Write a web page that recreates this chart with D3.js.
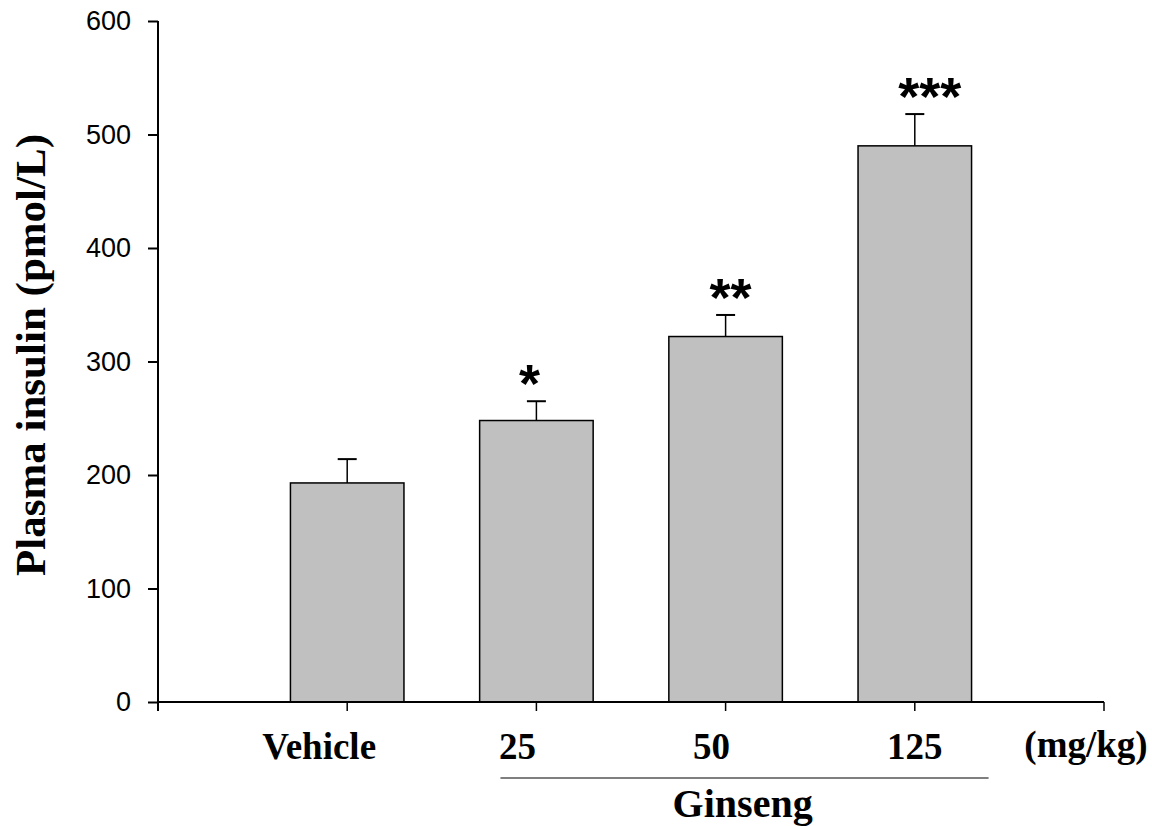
<!DOCTYPE html>
<html>
<head>
<meta charset="utf-8">
<script src="https://cdn.jsdelivr.net/npm/d3@7"></script>
<style>
  body { margin: 0; background: #fff; }
  svg { display: block; }
</style>
</head>
<body>
<div id="graphicContainer"></div>
<script>
// data
var groups = ["Vehicle", "25", "50", "125"]
var means = [193, 248, 322, 490]
var errors = [21, 17, 19, 28]
var stars = ["", "*", "**", "***"]
var yTicks = [0, 100, 200, 300, 400, 500, 600]

// hand-placed nudges of the text in the original figure
var labelNudge = [-28, -19, -14, 0]
var starNudge = [0, -7, 5, 15]

var width = 1152, height = 826
var margin = {top: 21, left: 158, right: 48, bottom: 124}
var innerW = width - margin.left - margin.right
var innerH = height - margin.top - margin.bottom

var svg = d3.select("#graphicContainer").append("svg")
	.attr("width", width)
	.attr("height", height)

var features = svg.append("g").attr("transform", "translate(" + margin.left + "," + margin.top + ")")

// positions 1..4 on a 0..5 axis
var x = d3.scaleLinear().domain([0, 5]).range([0, innerW])
var y = d3.scaleLinear().domain([0, 600]).range([innerH, 0])
var barW = x(1) * 0.6

var sans = "Liberation Sans, Arial, sans-serif"
var serif = "Liberation Serif, Times New Roman, serif"

// y axis
var yAxis = d3.axisLeft(y).tickValues(yTicks).tickSize(10).tickPadding(17).tickFormat(d3.format("d"))
var gy = features.append("g").call(yAxis)
gy.select(".domain").remove()
gy.selectAll("line").attr("stroke", "#000").attr("stroke-width", 2)
gy.selectAll("text").attr("font-family", sans).attr("font-size", 27).attr("fill", "#000")
features.append("line")
	.attr("x1", 0).attr("x2", 0)
	.attr("y1", 0).attr("y2", innerH + 9)
	.attr("stroke", "#000").attr("stroke-width", 2)

// bars
features.selectAll(".bar")
	.data(means)
	.enter().append("rect")
	.attr("class", "bar")
	.attr("x", function(d, i) { return x(i + 1) - barW / 2 })
	.attr("y", function(d) { return y(d) })
	.attr("width", barW)
	.attr("height", function(d) { return y(0) - y(d) })
	.attr("fill", "#c0c0c0")
	.attr("stroke", "#000")
	.attr("stroke-width", 1.5)

// error bars (upper only)
var eb = features.selectAll(".err")
	.data(means)
	.enter().append("g")
	.attr("class", "err")
eb.append("line")
	.attr("x1", function(d, i) { return x(i + 1) })
	.attr("x2", function(d, i) { return x(i + 1) })
	.attr("y1", function(d) { return y(d) })
	.attr("y2", function(d, i) { return y(d + errors[i]) })
	.attr("stroke", "#000").attr("stroke-width", 1.5)
eb.append("line")
	.attr("x1", function(d, i) { return x(i + 1) - 9.5 })
	.attr("x2", function(d, i) { return x(i + 1) + 9.5 })
	.attr("y1", function(d, i) { return y(d + errors[i]) })
	.attr("y2", function(d, i) { return y(d + errors[i]) })
	.attr("stroke", "#000").attr("stroke-width", 2)

// significance stars
features.selectAll(".star")
	.data(means)
	.enter().append("text")
	.attr("class", "star")
	.attr("x", function(d, i) { return x(i + 1) + starNudge[i] })
	.attr("y", function(d, i) { return y(d + errors[i]) + 1 })
	.attr("text-anchor", "middle")
	.attr("font-family", sans)
	.attr("font-weight", "bold")
	.attr("font-size", 54)
	.attr("fill", "#000")
	.text(function(d, i) { return stars[i] })

// x axis
features.append("line")
	.attr("x1", 0).attr("x2", innerW)
	.attr("y1", innerH).attr("y2", innerH)
	.attr("stroke", "#000").attr("stroke-width", 2)
var xTicks = [1, 2, 3, 4, 5]
features.selectAll(".xtick")
	.data(xTicks)
	.enter().append("line")
	.attr("x1", function(d) { return x(d) })
	.attr("x2", function(d) { return x(d) })
	.attr("y1", innerH).attr("y2", innerH + 9)
	.attr("stroke", "#000").attr("stroke-width", 1.5)

features.selectAll(".xlab")
	.data(groups)
	.enter().append("text")
	.attr("x", function(d, i) { return x(i + 1) + labelNudge[i] })
	.attr("y", innerH + 57)
	.attr("text-anchor", "middle")
	.attr("font-family", serif)
	.attr("font-weight", "bold")
	.attr("font-size", 37)
	.attr("fill", "#000")
	.text(function(d) { return d })

features.append("text")
	.attr("x", x(5) - 18)
	.attr("y", innerH + 55)
	.attr("text-anchor", "middle")
	.attr("font-family", serif)
	.attr("font-weight", "bold")
	.attr("font-size", 37)
	.text("(mg/kg)")

// group bracket for Ginseng
features.append("line")
	.attr("x1", x(1.81)).attr("x2", x(4.39))
	.attr("y1", innerH + 76).attr("y2", innerH + 76)
	.attr("stroke", "#000").attr("stroke-width", 1.2)
features.append("text")
	.attr("x", x(3.09))
	.attr("y", innerH + 115)
	.attr("text-anchor", "middle")
	.attr("font-family", serif)
	.attr("font-weight", "bold")
	.attr("font-size", 40)
	.text("Ginseng")

// y label
svg.append("text")
	.attr("transform", "translate(45," + 355 + ") rotate(-90)")
	.attr("text-anchor", "middle")
	.attr("font-family", serif)
	.attr("font-weight", "bold")
	.attr("font-size", 43)
	.text("Plasma insulin (pmol/L)")
</script>
</body>
</html>
